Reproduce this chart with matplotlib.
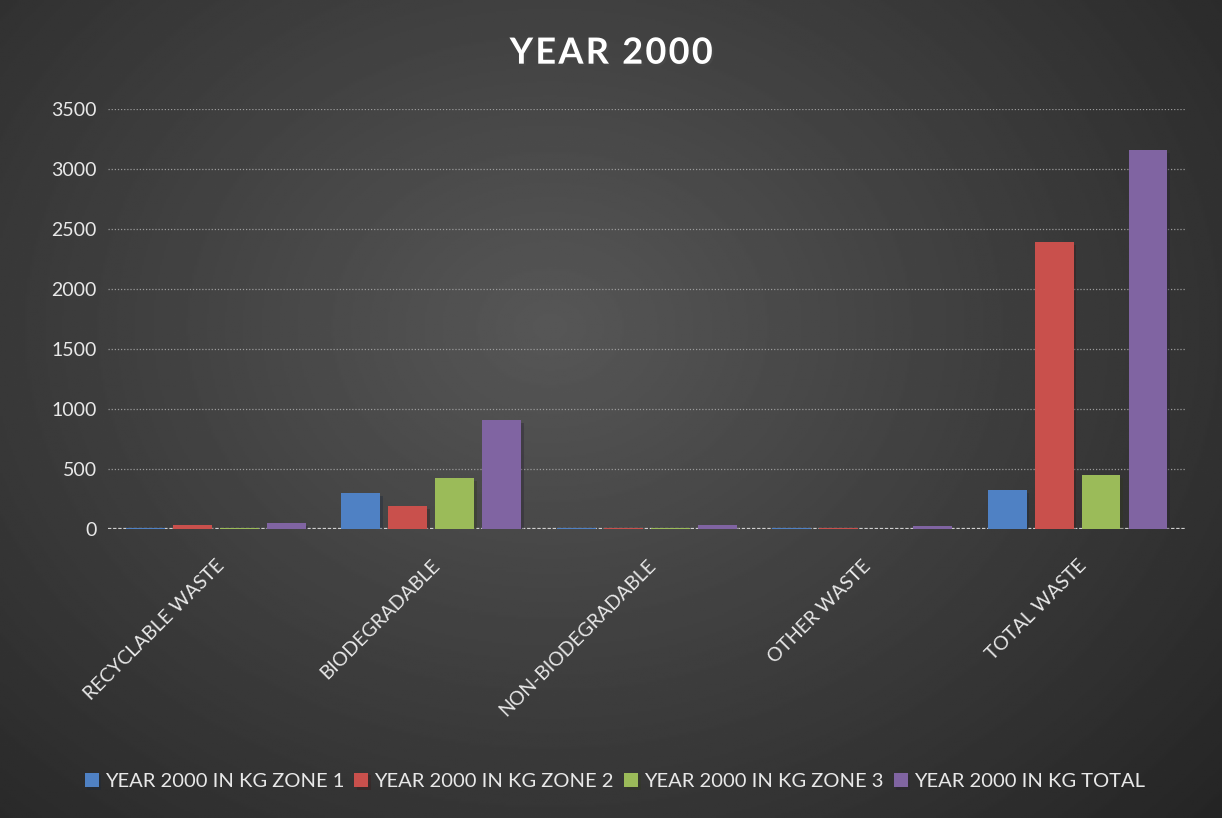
import numpy as np
import matplotlib
matplotlib.use("Agg")
import matplotlib.pyplot as plt
import matplotlib.patheffects as pe

plt.rcParams['font.family'] = ['Lato', 'DejaVu Sans']

categories = ["RECYCLABLE WASTE", "BIODEGRADABLE", "NON-BIODEGRADABLE",
              "OTHER WASTE", "TOTAL WASTE"]
series_names = ["YEAR 2000 IN KG ZONE 1", "YEAR 2000 IN KG ZONE 2",
                "YEAR 2000 IN KG ZONE 3", "YEAR 2000 IN KG TOTAL"]
zone1 = [10, 300, 8, 5, 325]
zone2 = [33, 192, 8, 8, 2392]
zone3 = [10, 425, 12, 3, 450]
total = [50, 908, 33, 25, 3158]
yticks = [0, 500, 1000, 1500, 2000, 2500, 3000, 3500]

colors = ["#4f81c4", "#c9504c", "#9bbb59", "#8064a2"]

fig = plt.figure(figsize=(12.22, 8.18), dpi=100)

# fond en dégradé radial
bg = fig.add_axes([0, 0, 1, 1])
yy, xx = np.mgrid[0:1:400j, 0:1:600j]
r = np.sqrt(((xx - 0.45) * 1.2) ** 2 + ((yy - 0.4) * 1.0) ** 2)
img = np.clip(0.34 - 0.22 * r, 0.14, 0.34)
bg.imshow(img, cmap='gray', vmin=0, vmax=1, extent=[0, 1, 0, 1],
          aspect='auto', origin='upper')
bg.set_axis_off()

ax = fig.add_axes([0.0884, 0.3533, 0.8816, 0.5134])
ax.patch.set_alpha(0)

x = np.arange(len(categories))
pitch = 0.218
width = 0.18
data = [zone1, zone2, zone3, total]
for i, (vals, name) in enumerate(zip(data, series_names)):
    ax.bar(x + (i - 1.5) * pitch, vals, width, color=colors[i], label=name,
           linewidth=0, zorder=3,
           path_effects=[pe.SimplePatchShadow(offset=(2, -2), alpha=0.35), pe.Normal()])

ax.set_xlim(-0.5, len(categories) - 0.5)
ax.set_ylim(0, 3500)
ax.set_yticks(yticks)
ax.set_yticklabels([str(v) for v in yticks], color='#e8e8e8', fontsize=14)
ax.grid(axis='y', color='#9a9a9a', linestyle=(0, (1, 1.5)), linewidth=0.9, zorder=0)
ax.axhline(0, color='#cfcfcf', linewidth=1.6, linestyle=(0, (1.5, 0.8)), zorder=2)
for s in ax.spines.values():
    s.set_visible(False)
ax.tick_params(axis='y', length=0, pad=8)
ax.set_xticks(x)
ax.set_xticklabels(categories, rotation=45, ha='right', rotation_mode='anchor',
                   color='#e8e8e8', fontsize=14)
ax.tick_params(axis='x', length=0, pad=20)

fig.text(0.5, 0.935, "Y\u200aE\u200aA\u200aR\u2009 2\u200a0\u200a0\u200a0",
         ha='center', va='center', color='white', fontsize=26, fontweight='bold',
         path_effects=[pe.withSimplePatchShadow(offset=(1.5, -1.5), alpha=0.5)])

leg = fig.legend(loc='center', bbox_to_anchor=(0.503, 0.045), ncol=4, frameon=False,
                 fontsize=14.5, handlelength=0.7, handleheight=0.7, handletextpad=0.3,
                 columnspacing=0.5)
for t in leg.get_texts():
    t.set_color('#e8e8e8')

fig.savefig("out.png", dpi=100)
